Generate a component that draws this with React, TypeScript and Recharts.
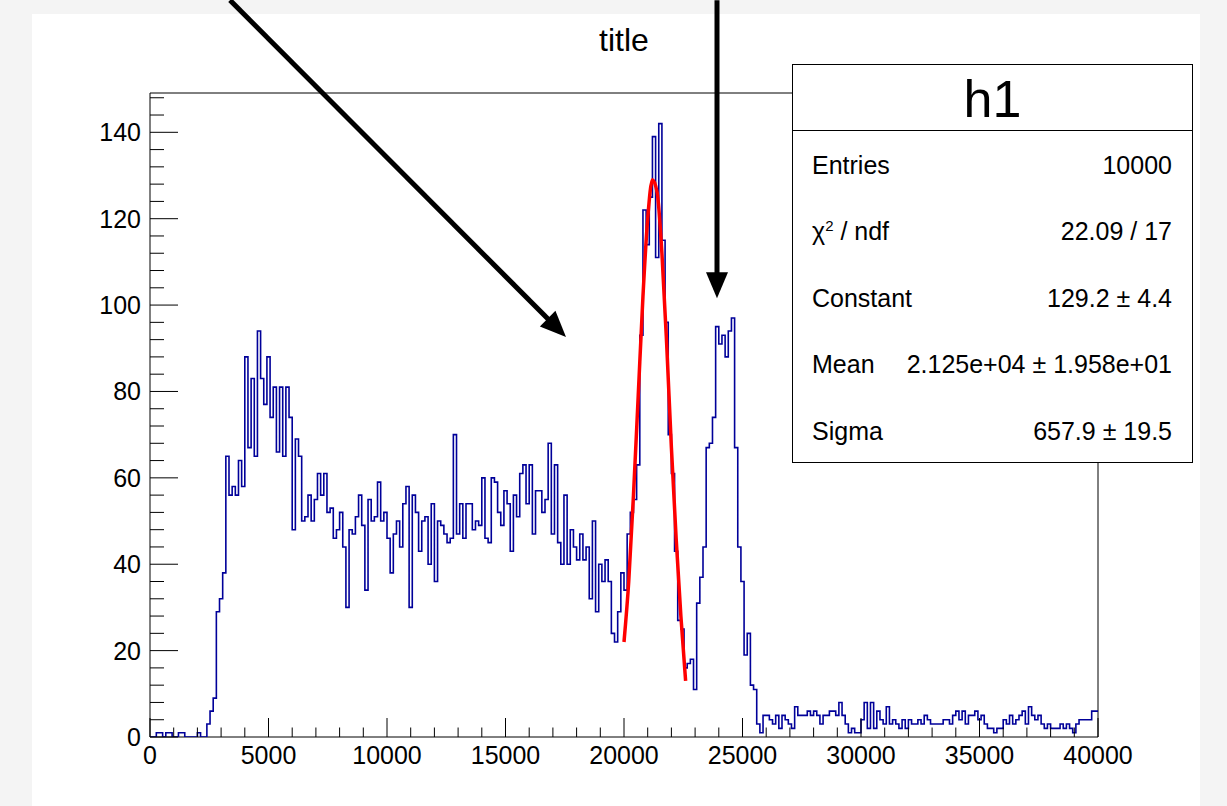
import React from "react"
import { ComposedChart, Line, XAxis, YAxis, ReferenceArea, ReferenceLine } from "recharts"

// histogram "h1": 300 bins from 0 to 40000 (counts)
const X_MIN = 0
const X_MAX = 40000
const Y_MAX = 149.1
const HIST_COUNTS = [
  0, 0, 1, 1, 0, 1, 1, 0, 0, 1, 1, 0, 0, 0, 0, 1, 0, 0,
  3, 6, 9, 29, 32, 38, 65, 56, 58, 56, 64, 58, 88, 67, 83, 65, 94, 83, 77, 88,
  74, 81, 66, 81, 65, 81, 74, 48, 69, 65, 50, 51, 56, 50, 55, 61, 56, 61, 52, 53,
  46, 48, 52, 44, 30, 48, 47, 51, 56, 49, 34, 55, 50, 51, 59, 50, 52, 46,
  38, 47, 50, 44, 54, 58, 30, 56, 52, 43, 50, 51, 40, 54, 36, 50, 49, 47, 45, 46,
  70, 47, 54, 46, 54, 54, 48, 50, 49, 60, 46, 45, 60, 59, 52, 49, 57, 54,
  43, 56, 51, 61, 63, 54, 63, 47, 57, 57, 52, 55, 68, 47, 63,
  45, 40, 56, 40, 48, 44, 41, 47, 41, 44, 32, 50, 29, 40, 36, 41, 36, 24, 22, 29, 38, 34, 47,
  52, 55, 63, 93, 122, 114, 125, 139, 111, 142, 115, 96, 70, 61, 43, 27, 25, 16, 17, 18, 11,
  31, 37, 44, 67, 68, 74, 95, 91, 93, 88, 94, 97, 67, 44, 36, 19, 24, 12, 11,
  3, 1, 5, 5, 4, 3, 5, 2,
  5, 4, 3, 2, 7, 5, 5, 5, 6, 5, 6, 5, 3, 5, 5, 6, 6, 5, 8, 5,
  3, 1, 2, 1, 1, 4, 8, 2, 8, 2, 6, 4, 3, 7, 3, 4, 3, 2, 4, 2,
  4, 3, 3, 4, 3, 5, 4, 3, 3, 3,
  3, 4, 4, 3, 5, 6, 4, 6, 3, 5, 5, 6, 4, 5, 3, 2, 2, 1, 2, 2,
  4, 3, 5, 3, 4, 5, 6, 3, 7, 5, 4, 5, 3, 2, 3, 2, 2, 2, 3, 2,
  3, 2, 1, 3, 4, 4, 4, 4, 6, 6,
]

// gaussian fit curve
const FIT_X = [20000, 20200, 20400, 20600, 20800, 21000, 21200, 21400, 21600, 21800, 22000, 22200, 22400, 22600]
const FIT_Y = [22, 36, 56, 79, 102, 120, 129, 126, 112, 91, 67, 46, 28, 13]

const X_TICKS = Array.from({ length: 41 }, (_, i) => i * 1000)
const Y_TICKS = Array.from({ length: 38 }, (_, i) => i * 4)

const STATS_TITLE = "h1"
const STATS_LABELS = ["Entries", "chi2", "Constant", "Mean", "Sigma"]
const STATS_VALUES = ["10000", "22.09 / 17", "129.2 ± 4.4", "2.125e+04 ± 1.958e+01", "657.9 ± 19.5"]

// annotation arrows, [x1, y1, x2, y2] in axis units
const ARROWS = [
  [3376, 170.6, 17553, 92.6],
  [23924, 170.6, 23924, 101.6],
]

const FONT = "'Liberation Sans', Arial, Helvetica, sans-serif"

const binW = (X_MAX - X_MIN) / HIST_COUNTS.length
const histData = HIST_COUNTS.map((c, i) => ({ x: X_MIN + i * binW, y: c }))
histData.push({ x: X_MAX, y: HIST_COUNTS[HIST_COUNTS.length - 1] })
const fitData = FIT_X.map((x, i) => ({ x, y: FIT_Y[i] }))

function XTick(props: any) {
  const { x, y, payload } = props
  const major = payload.value % 5000 === 0
  return (
    <g>
      <line x1={x} x2={x} y1={y} y2={y - (major ? 19 : 9.5)} stroke="#000" strokeWidth={1} />
      {major && (
        <text x={x} y={y + 27} textAnchor="middle" fontSize={25} fontFamily={FONT} fill="#000">
          {payload.value}
        </text>
      )}
    </g>
  )
}

function YTick(props: any) {
  const { x, y, payload } = props
  const major = payload.value % 20 === 0
  return (
    <g>
      <line x1={x} x2={x + (major ? 28 : 14)} y1={y} y2={y} stroke="#000" strokeWidth={1} />
      {major && (
        <text x={x - 9} y={y} dy="0.36em" textAnchor="end" fontSize={25} fontFamily={FONT} fill="#000">
          {payload.value}
        </text>
      )}
    </g>
  )
}

function Arrow(props: any) {
  const { x1, y1, x2, y2 } = props
  const dx = x2 - x1
  const dy = y2 - y1
  const len = Math.sqrt(dx * dx + dy * dy)
  const ux = dx / len
  const uy = dy / len
  const head = 26
  const half = 11
  const bx = x2 - ux * head
  const by = y2 - uy * head
  const pts = `${x2},${y2} ${bx - uy * half},${by + ux * half} ${bx + uy * half},${by - ux * half}`
  return (
    <g>
      <line x1={x1} y1={y1} x2={bx + ux * 2} y2={by + uy * 2} stroke="#000" strokeWidth={5} />
      <polygon points={pts} fill="#000" />
    </g>
  )
}

export default function App() {
  return (
    <div style={{ position: "absolute", left: 0, top: 0, width: 1227, height: 806, background: "#f4f4f4", overflow: "hidden", fontFamily: FONT }}>
      <div style={{ position: "absolute", left: 32, top: 14, width: 1168, height: 792, background: "#fff" }} />
      <div style={{ position: "absolute", left: 0, top: 0 }}>
        <ComposedChart width={1227} height={806} margin={{ top: 93, right: 129, bottom: 29, left: 90 }}>
          <XAxis
            dataKey="x"
            type="number"
            domain={[X_MIN, X_MAX]}
            ticks={X_TICKS}
            interval={0}
            tickSize={0}
            tickMargin={0}
            axisLine={false}
            tick={<XTick />}
            height={40}
            allowDataOverflow
          />
          <YAxis
            type="number"
            domain={[0, Y_MAX]}
            ticks={Y_TICKS}
            interval={0}
            tickSize={0}
            tickMargin={0}
            axisLine={false}
            tick={<YTick />}
            width={60}
            allowDataOverflow
          />
          <ReferenceArea x1={X_MIN} x2={X_MAX} y1={0} y2={Y_MAX} fill="none" stroke="#000" strokeWidth={1} ifOverflow="visible" />
          <Line data={histData} dataKey="y" type="stepAfter" stroke="#000099" strokeWidth={1.6} dot={false} isAnimationActive={false} />
          <Line data={fitData} dataKey="y" type="monotone" stroke="#ff0000" strokeWidth={3.5} dot={false} isAnimationActive={false} />
          {ARROWS.map((a, i) => (
            <ReferenceLine
              key={i}
              segment={[{ x: a[0], y: a[1] }, { x: a[2], y: a[3] }]}
              ifOverflow="visible"
              shape={<Arrow />}
            />
          ))}
        </ComposedChart>
      </div>
      <div style={{ position: "absolute", left: 524, top: 20, width: 200, textAlign: "center", fontSize: 32, lineHeight: "40px", color: "#000" }}>
        title
      </div>
      <div style={{ position: "absolute", left: 792, top: 64, width: 401, height: 399, boxSizing: "border-box", border: "1px solid #000", background: "#fff", color: "#000" }}>
        <div style={{ height: 65, borderBottom: "1px solid #000", textAlign: "center", fontSize: 52, lineHeight: "68px" }}>{STATS_TITLE}</div>
        {STATS_LABELS.map((label, i) => (
          <div key={label} style={{ position: "absolute", left: 19, right: 20, top: 67 + i * 66.5, height: 66.5, display: "flex", justifyContent: "space-between", alignItems: "center", fontSize: 25 }}>
            <span>
              {label === "chi2" ? (
                <>
                  χ<sup style={{ fontSize: 15 }}>2</sup> / ndf
                </>
              ) : (
                label
              )}
            </span>
            <span>{STATS_VALUES[i]}</span>
          </div>
        ))}
      </div>
    </div>
  )
}
